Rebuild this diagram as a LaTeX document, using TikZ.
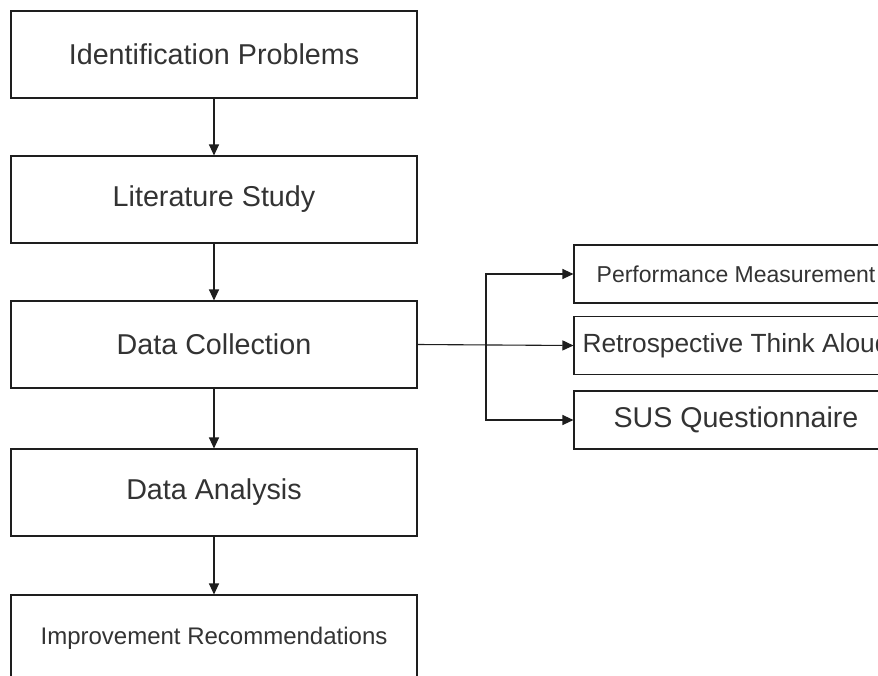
\documentclass[tikz,border=0pt]{standalone}
\usepackage{fontspec}
\setmainfont{Liberation Sans}
\usetikzlibrary{arrows.meta}
\definecolor{txt}{HTML}{333333}
\definecolor{ln}{HTML}{1E1E1E}
\begin{document}
\begin{tikzpicture}[x=1pt,y=-1pt,
  box/.style={draw=ln, line width=1.1pt, fill=white, rectangle, inner sep=0pt, text=txt},
  leftbox/.style={box, minimum width=406pt, minimum height=87pt},
  rightbox/.style={box, minimum width=324pt, minimum height=58pt},
  arr/.style={draw=ln, line width=1.1pt, -{Triangle[length=11pt,width=10pt]}}]
\useasboundingbox (0,0) rectangle (878,675);
\fill[white] (0,0) rectangle (878,675);
\clip (0,0) rectangle (878,675);
\node[leftbox, font=\fontsize{28.7}{34}\selectfont] (b1) at (214,54.5) {Identification Problems};
\node[leftbox, font=\fontsize{28.7}{34}\selectfont] (b2) at (214,199.5) {Literature Study};
\node[leftbox, font=\fontsize{28.7}{34}\selectfont] (b3) at (214,344.5) {Data Collection};
\node[leftbox, font=\fontsize{28.7}{34}\selectfont] (b4) at (214,492.5) {Data Analysis};
\node[leftbox, font=\fontsize{24}{29}\selectfont] (b5) at (214,638.5) {Improvement Recommendations};
\node[rightbox, font=\fontsize{23}{28}\selectfont] (r1) at (736,274) {Performance Measurement};
\node[rightbox, font=\fontsize{26.3}{32}\selectfont] (r2) at (736,345.5) {Retrospective Think Aloud};
\node[rightbox, font=\fontsize{28.6}{34}\selectfont] (r3) at (736,420) {SUS Questionnaire};
\draw[arr] (b1) -- (b2);
\draw[arr] (b2) -- (b3);
\draw[arr] (b3) -- (b4);
\draw[arr] (b4) -- (b5);
\coordinate (jn) at (486,345.5);
\draw[arr] (b3.east) -- (r2.west);
\draw[arr] (jn) |- (r1.west);
\draw[arr] (jn) |- (r3.west);
\end{tikzpicture}
\end{document}
